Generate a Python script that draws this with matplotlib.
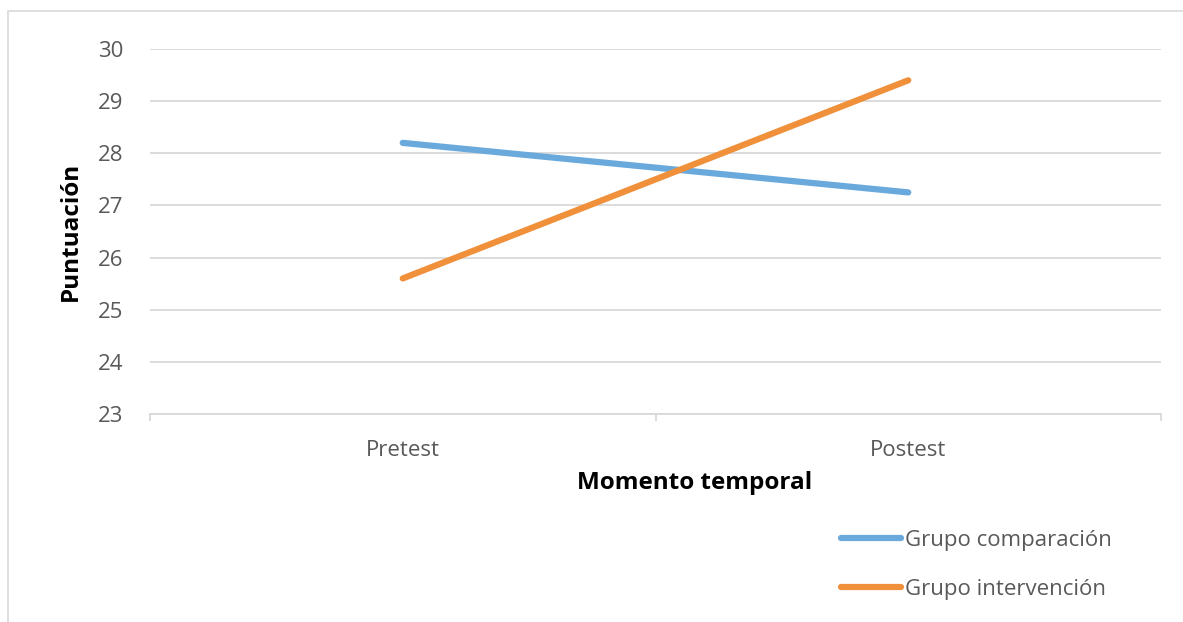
import matplotlib.pyplot as plt
import numpy as np
from matplotlib.patches import Rectangle

# datos
momentos = ["Pretest", "Postest"]
grupo_comparacion = [28.2, 27.25]
grupo_intervencion = [25.6, 29.4]

plt.rcParams['font.family'] = ['Open Sans', 'DejaVu Sans']

fig = plt.figure(figsize=(11.83, 6.22), dpi=100)
ax = fig.add_axes([0.1268, 0.3344, 0.9814 - 0.1268, 0.9212 - 0.3344])

# borde del gráfico
fig.patches.append(Rectangle((8 / 1183, -0.1), 2, 1 - 11 / 622 + 0.1,
                             transform=fig.transFigure, fill=False,
                             edgecolor="#D9D9D9", linewidth=1.2))

x = np.arange(len(momentos))
ax.plot(x, grupo_comparacion, color="#6AA9DC", linewidth=4.5,
        solid_capstyle="round", label="Grupo comparación")
ax.plot(x, grupo_intervencion, color="#F0903A", linewidth=4.5,
        solid_capstyle="round", label="Grupo intervención")

ax.set_xlim(-0.5, 1.5)
ax.set_ylim(23, 30)
ax.set_yticks(range(23, 31))
ax.set_xticks(x)
ax.set_xticklabels(momentos)
ax.set_xticks([-0.5, 0.5, 1.5], minor=True)

ax.grid(axis="y", color="#D9D9D9", linewidth=1.3)
ax.set_axisbelow(True)
for s in ["top", "right", "left"]:
    ax.spines[s].set_visible(False)
ax.spines["bottom"].set_color("#D9D9D9")
ax.spines["bottom"].set_linewidth(1.3)

ax.tick_params(axis="y", length=0, pad=19, labelsize=16, labelcolor="#595959")
ax.tick_params(axis="x", which="major", length=0, pad=19, labelsize=16,
               labelcolor="#595959")
ax.tick_params(axis="x", which="minor", length=5, color="#D9D9D9", width=1.3)

ax.set_xlabel("Momento temporal", fontsize=17.5, fontweight="bold", labelpad=7)
ax.xaxis.label.set_x(0.539)
ax.set_ylabel("Puntuación", fontsize=17.5, fontweight="bold", labelpad=11)

fig.legend(loc="upper left", bbox_to_anchor=(821 / 1183, 1 - 510 / 622),
           frameon=False, fontsize=16, handlelength=2.7, handletextpad=0.2,
           labelspacing=1.25, labelcolor="#595959")

fig.savefig("out.png", dpi=100)
